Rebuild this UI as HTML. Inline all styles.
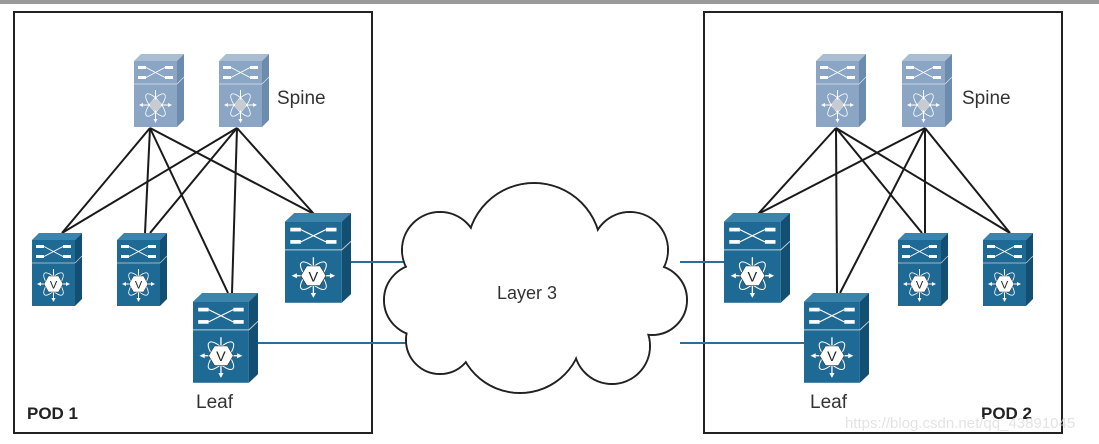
<!DOCTYPE html>
<html><head><meta charset="utf-8"><style>
html,body{margin:0;padding:0;background:#fff;}
svg{display:block;}
text{font-family:"Liberation Sans",sans-serif;}
</style></head><body>
<svg width="1099" height="444" viewBox="0 0 1099 444" xmlns="http://www.w3.org/2000/svg">
<defs>
  <g id="dev">
    <polygon points="0,7 7,0 50,0 43,7" fill="var(--t)"/>
    <polygon points="43,7 50,0 50,66 43,73" fill="var(--s)"/>
    <rect x="0" y="7" width="43" height="66" fill="var(--f)"/>
    <line x1="0" y1="30" x2="43" y2="30" stroke="#fff" stroke-width="0.8" opacity="0.7"/>
    <line x1="43" y1="30" x2="50" y2="23" stroke="#fff" stroke-width="0.8" opacity="0.7"/>
    <rect x="4" y="12" width="8" height="3" fill="#fff"/>
    <rect x="31" y="12" width="8" height="3" fill="#fff"/>
    <rect x="4" y="22" width="8" height="3" fill="#fff"/>
    <rect x="31" y="22" width="8" height="3" fill="#fff"/>
    <path d="M12,13.5 L31,23.5 M12,23.5 L31,13.5" stroke="#fff" stroke-width="0.9" fill="none"/>
    <path d="M21.5,51 m-15,0 l30,0 M21.5,36 l0,32" stroke="#fff" stroke-width="1" fill="none"/>
    <ellipse cx="21.5" cy="51" rx="14" ry="5" fill="none" stroke="#fff" stroke-width="0.8" transform="rotate(50 21.5 51)"/>
    <ellipse cx="21.5" cy="51" rx="14" ry="5" fill="none" stroke="#fff" stroke-width="0.8" transform="rotate(-50 21.5 51)"/>
    <polygon points="5,51 9,49 9,53" fill="#fff"/><polygon points="38,51 34,49 34,53" fill="#fff"/>
    <polygon points="21.5,69 19.5,65 23.5,65" fill="#fff"/>
  </g>
  <g id="spinehub"><circle cx="21.5" cy="51" r="5.5" fill="#c8ccd2"/></g>
  <g id="vhex">
    <polygon points="12,51 16.5,43 26.5,43 31,51 26.5,59 16.5,59" fill="#fff" stroke="#333" stroke-width="0.5"/>
    <text x="21.5" y="55.5" font-size="11" text-anchor="middle" fill="#222">V</text>
  </g>
  <g id="spine" style="--t:#a9bdd3;--s:#6d8bad;--f:#8aa6c4"><use href="#dev"/><use href="#spinehub"/></g>
  <g id="leaf" style="--t:#3a84ad;--s:#134f72;--f:#1f6a95"><use href="#dev"/><use href="#vhex"/></g>
</defs>

<rect x="0" y="0" width="1099" height="4" fill="#9a9a9a"/>
<rect x="14" y="12" width="358" height="421" fill="none" stroke="#222" stroke-width="2"/>
<rect x="704" y="12" width="358" height="421" fill="none" stroke="#222" stroke-width="2"/>

<g stroke="#2e6e96" stroke-width="2">
  <line x1="351" y1="262" x2="410" y2="262"/>
  <line x1="258" y1="343" x2="410" y2="343"/>
  <line x1="680" y1="262" x2="726" y2="262"/>
  <line x1="680" y1="343" x2="806" y2="343"/>
</g>

<!-- cloud -->
<g stroke="#222" stroke-width="2" fill="#fff">
  <circle cx="534" cy="250" r="67"/><circle cx="440" cy="250" r="38"/><circle cx="630" cy="250" r="38"/>
  <circle cx="420" cy="300" r="36"/><circle cx="652" cy="300" r="35"/><circle cx="440" cy="340" r="34"/>
  <circle cx="520" cy="330" r="63"/><circle cx="612" cy="346" r="38"/>
</g>
<g fill="#fff">
  <circle cx="534" cy="250" r="66"/><circle cx="440" cy="250" r="37"/><circle cx="630" cy="250" r="37"/>
  <circle cx="420" cy="300" r="35"/><circle cx="652" cy="300" r="34"/><circle cx="440" cy="340" r="33"/>
  <circle cx="520" cy="330" r="62"/><circle cx="612" cy="346" r="37"/>
  <ellipse cx="535" cy="295" rx="120" ry="58"/>
</g>
<text x="497" y="299" font-size="18" fill="#333">Layer 3</text>

<g stroke="#1a1a1a" stroke-width="2">
  <line x1="150" y1="128" x2="62" y2="233"/><line x1="150" y1="128" x2="145" y2="233"/>
  <line x1="150" y1="128" x2="228" y2="293"/><line x1="150" y1="128" x2="314" y2="214"/>
  <line x1="237" y1="128" x2="62" y2="233"/><line x1="237" y1="128" x2="150" y2="233"/>
  <line x1="237" y1="128" x2="232" y2="293"/><line x1="237" y1="128" x2="314" y2="214"/>
</g>
<g stroke="#1a1a1a" stroke-width="2">
  <line x1="836" y1="128" x2="758" y2="214"/><line x1="836" y1="128" x2="837" y2="293"/>
  <line x1="836" y1="128" x2="922" y2="233"/><line x1="836" y1="128" x2="1010" y2="233"/>
  <line x1="925" y1="128" x2="758" y2="214"/><line x1="925" y1="128" x2="840" y2="293"/>
  <line x1="925" y1="128" x2="925" y2="233"/><line x1="925" y1="128" x2="1010" y2="233"/>
</g>

<use href="#spine" transform="translate(134,54)"/>
<use href="#spine" transform="translate(219,54)"/>
<use href="#leaf" transform="translate(32,233)"/>
<use href="#leaf" transform="translate(117,233)"/>
<use href="#leaf" transform="translate(285,213) scale(1.32,1.23)"/>
<use href="#leaf" transform="translate(193,293) scale(1.3,1.23)"/>
<text x="277" y="104" font-size="19" fill="#333">Spine</text>
<text x="196" y="408" font-size="19" fill="#333">Leaf</text>
<text x="27" y="419" font-size="17" font-weight="bold" fill="#222">POD 1</text>

<use href="#spine" transform="translate(816,54)"/>
<use href="#spine" transform="translate(902,54)"/>
<use href="#leaf" transform="translate(724,213) scale(1.32,1.23)"/>
<use href="#leaf" transform="translate(804,293) scale(1.3,1.23)"/>
<use href="#leaf" transform="translate(898,233)"/>
<use href="#leaf" transform="translate(983,233)"/>
<text x="962" y="104" font-size="19" fill="#333">Spine</text>
<text x="810" y="408" font-size="19" fill="#333">Leaf</text>
<text x="981" y="419" font-size="17" font-weight="bold" fill="#222">POD 2</text>
<text x="845" y="428" font-size="15" fill="#ddd" opacity="0.8">https://blog.csdn.net/qq_43891045</text>
</svg>
</body></html>
